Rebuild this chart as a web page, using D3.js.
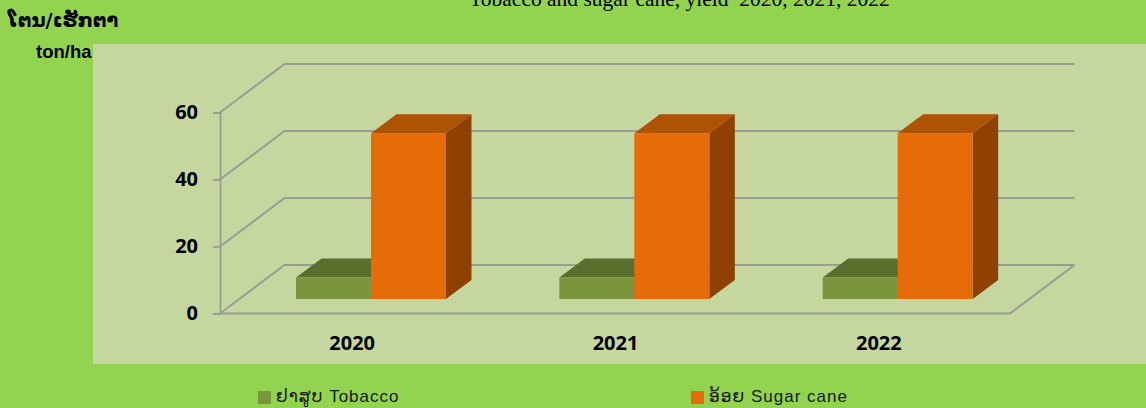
<!DOCTYPE html>
<html>
<head>
<meta charset="utf-8">
<script src="https://cdn.jsdelivr.net/npm/d3@7/dist/d3.min.js"></script>
<style>
  html, body { margin: 0; padding: 0; background: #92D350; overflow: hidden; }
  svg { display: block; }
</style>
</head>
<body>
<div id="chart"></div>
<script>
const years = ['2020', '2021', '2022'];
const seriesKeys = ['tobacco', 'sugar'];
const tobaccoYield = [6.4, 6.4, 6.4];
const sugarYield = [49.5, 49.5, 49.5];
const yTicks = [0, 20, 40, 60];
const legendLabels = ['ຢາສູບ Tobacco', 'ອ້ອຍ Sugar cane'];

const colors = {
  tobacco: { front: '#7A953C', top: '#5A6F2E', side: '#4C5F27' },
  sugar:   { front: '#E56C09', top: '#AE5204', side: '#8F4103' },
};

const W = 1146, H = 408;
const svg = d3.select('#chart').append('svg').attr('width', W).attr('height', H);

svg.append('rect').attr('width', W).attr('height', H).attr('fill', '#92D350');
svg.append('rect').attr('x', 93).attr('y', 44).attr('width', W - 93).attr('height', 320).attr('fill', '#C5D79F');

// Scales
const x = d3.scaleBand().domain(years).range([220, 1010]);
const y = d3.scaleLinear().domain([0, 60]).range([313.5, 112.5]);
const inner = d3.scaleBand().domain(seriesKeys).range([76, 226]);

// 3d offsets
const wall = { dx: 64.5, dy: -48.5 };
const bar = { dx: 25.5, dy: -19, lift: 14.5 };

const line = d3.line();

// Grid lines on side and back wall
const gridColor = '#999C95';
yTicks.forEach(t => {
  const p0 = [x.range()[0], y(t)];
  const p1 = [p0[0] + wall.dx, p0[1] + wall.dy];
  const p2 = [x.range()[1] + wall.dx, p1[1]];
  svg.append('path').attr('d', line([p0, p1, p2]))
    .attr('fill', 'none').attr('stroke', gridColor).attr('stroke-width', 2);
});

// Floor front edge
svg.append('path')
  .attr('d', line([
    [x.range()[0], y(0)],
    [x.range()[1], y(0)],
    [x.range()[1] + wall.dx, y(0) + wall.dy],
  ]))
  .attr('fill', 'none').attr('stroke', gridColor).attr('stroke-width', 2);

// Y axis
const yAxisG = svg.append('g').attr('transform', `translate(${x.range()[0]},0)`)
  .call(d3.axisLeft(y).tickValues(yTicks).tickSize(7).tickPadding(15).tickFormat(d3.format('d')));
yAxisG.selectAll('line, path').attr('stroke', gridColor).attr('stroke-width', 1.8);
yAxisG.selectAll('text')
  .attr('fill', '#000')
  .attr('font-family', "'Open Sans', sans-serif")
  .attr('font-weight', 700)
  .attr('font-size', '20px');

// X axis labels
const xAxisG = svg.append('g').attr('transform', `translate(0.5,${y(0)})`)
  .call(d3.axisBottom(x).tickSize(0).tickPadding(22));
xAxisG.select('path').remove();
xAxisG.selectAll('text')
  .attr('fill', '#000')
  .attr('font-family', "'Open Sans', sans-serif")
  .attr('font-weight', 700)
  .attr('font-size', '20px');

// Bars, tobacco first so the sugar cane block sits on top of it
const rows = [];
seriesKeys.forEach(k => {
  years.forEach((yr, i) => {
    rows.push({ key: k, year: yr, value: k === 'tobacco' ? tobaccoYield[i] : sugarYield[i] });
  });
});

const barG = svg.selectAll('.bar3d').data(rows).enter().append('g').attr('class', 'bar3d');

barG.each(function(d) {
  const g = d3.select(this);
  const x0 = x(d.year) + inner(d.key);
  const x1 = x0 + inner.bandwidth();
  const yb = y(0) - bar.lift;
  const yt = y(d.value) - bar.lift;
  const c = colors[d.key];

  g.append('path')
    .attr('d', line([[x0, yt], [x0 + bar.dx, yt + bar.dy], [x1 + bar.dx, yt + bar.dy], [x1, yt]]) + 'Z')
    .attr('fill', c.top);
  g.append('path')
    .attr('d', line([[x1, yt], [x1 + bar.dx, yt + bar.dy], [x1 + bar.dx, yb + bar.dy], [x1, yb]]) + 'Z')
    .attr('fill', c.side);
  g.append('rect')
    .attr('x', x0).attr('y', yt)
    .attr('width', x1 - x0).attr('height', yb - yt)
    .attr('fill', c.front);
});

// Title, cut off by the top of the picture as in the reference
svg.append('text')
  .attr('x', 679.5).attr('y', 6)
  .attr('text-anchor', 'middle')
  .attr('font-family', "'Liberation Serif', serif")
  .attr('font-size', '21.5px')
  .style('white-space', 'pre')
  .text('Tobacco and sugar cane, yield  2020, 2021, 2022');

// Unit labels
svg.append('text')
  .attr('x', 8).attr('y', 27)
  .attr('font-family', "'DejaVu Sans', sans-serif")
  .attr('font-weight', 700)
  .attr('font-size', '19.3px')
  .text('ໂຕນ/ເຮັກຕາ');
svg.append('text')
  .attr('x', 36).attr('y', 58)
  .attr('font-family', "'Liberation Sans', sans-serif")
  .attr('font-weight', 700)
  .attr('font-size', '18.5px')
  .text('ton/ha');

// Legend
const legendX = [258, 691];
seriesKeys.forEach((k, i) => {
  svg.append('rect').attr('x', legendX[i]).attr('y', 391).attr('width', 13).attr('height', 13)
    .attr('fill', colors[k].front);
  svg.append('text')
    .attr('x', legendX[i] + 18).attr('y', 402)
    .attr('font-family', "'Liberation Sans', 'DejaVu Sans', sans-serif")
    .attr('font-size', '17px')
    .attr('letter-spacing', '1px')
    .attr('fill', '#1a1a1a')
    .text(legendLabels[i]);
});
</script>
</body>
</html>
